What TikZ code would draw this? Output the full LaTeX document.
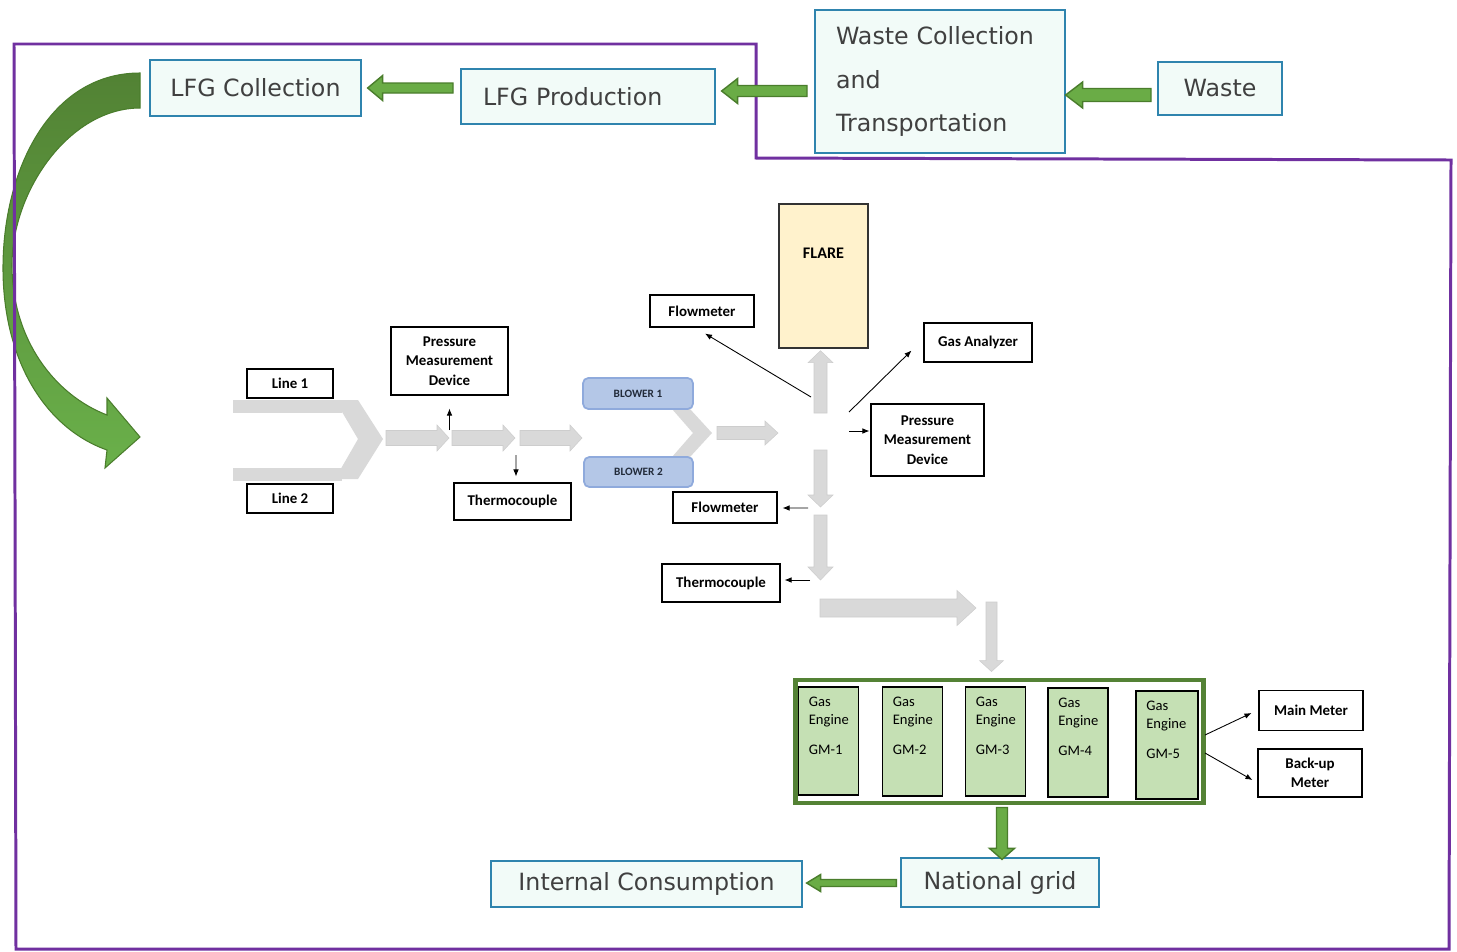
\documentclass[tikz,border=0pt]{standalone}
\usepackage{fontspec}
\usetikzlibrary{calc,arrows.meta}
\newfontfamily\verdfont{DejaVu Sans}
\newfontfamily\calfont{Carlito}
\definecolor{frameviolet}{HTML}{7030A0}
\definecolor{boxedge}{HTML}{2F84AE}
\definecolor{boxfill}{HTML}{F2FBF8}
\definecolor{boxtext}{HTML}{404040}
\definecolor{arrowgreen}{HTML}{6AAC46}
\definecolor{arrowedge}{HTML}{4A7D2C}
\definecolor{curvetop}{HTML}{528234}
\definecolor{curvebottom}{HTML}{6AB04A}
\definecolor{enginebox}{HTML}{548235}
\definecolor{enginefill}{HTML}{C5E0B4}
\definecolor{blowerfill}{HTML}{B4C7E7}
\definecolor{blowerdraw}{HTML}{8FAADC}
\definecolor{blowertext}{HTML}{222B3A}
\definecolor{flarefill}{HTML}{FFF2CC}
\definecolor{pipegrey}{HTML}{D9D9D9}
\definecolor{pipeedge}{HTML}{CDCDCD}

% block arrow: style, tail, tip, angle, half shaft, half head, head length
\newcommand{\blockarrow}[7]{%
  \draw[#1] ($#2+({-(#5)*sin(#4)},{(#5)*cos(#4)})$)
    -- ($#3+({-(#7)*cos(#4)-(#5)*sin(#4)},{-(#7)*sin(#4)+(#5)*cos(#4)})$)
    -- ($#3+({-(#7)*cos(#4)-(#6)*sin(#4)},{-(#7)*sin(#4)+(#6)*cos(#4)})$)
    -- #3
    -- ($#3+({-(#7)*cos(#4)+(#6)*sin(#4)},{-(#7)*sin(#4)-(#6)*cos(#4)})$)
    -- ($#3+({-(#7)*cos(#4)+(#5)*sin(#4)},{-(#7)*sin(#4)-(#5)*cos(#4)})$)
    -- ($#2+({(#5)*sin(#4)},{-(#5)*cos(#4)})$) -- cycle;}

\begin{document}
\begin{tikzpicture}[x=0.02cm,y=-0.02cm,
  wh/.style 2 args={minimum width={#1*0.02cm},minimum height={#2*0.02cm}},
  topbox/.style={draw=boxedge,fill=boxfill,text=boxtext,line width=0.7pt,inner sep=0pt,
    font=\verdfont\fontsize{13.5}{16}\selectfont},
  meter/.style={draw=black,fill=white,line width=0.6pt,inner sep=0pt,align=center,
    font=\calfont\bfseries\fontsize{8.5}{11}\selectfont},
  blower/.style={draw=blowerdraw,fill=blowerfill,line width=1pt,rounded corners=3pt,
    inner sep=0pt,text=blowertext,font=\calfont\bfseries\fontsize{6.4}{7}\selectfont},
  engine/.style={draw=black,fill=enginefill,line width=0.6pt,inner sep=0pt},
  enginetext/.style={anchor=north west,align=left,inner sep=0pt,xshift=6pt,yshift=-5.8pt,
    font=\calfont\fontsize{8.3}{10.2}\selectfont},
  greenarrow/.style={draw=arrowedge,fill=arrowgreen,line width=0.8pt},
  pipe/.style={fill=pipegrey,draw=pipeedge,line width=0.3pt},
  sensor/.style={line width=0.5pt,-{Latex[length=4pt,width=3.2pt]}}]

\fill[white] (0,0) rectangle (1457,951);
\useasboundingbox (0,0) rectangle (1457,951);

% curved arrow into the plant
\draw[draw=arrowedge,line width=0.6pt,top color=curvetop,bottom color=curvebottom]
  (140,73) .. controls (50,73) and (3,170) .. (3,268)
  .. controls (3,360) and (45,428) .. (107,450)
  -- (105,468) -- (140,437) -- (107,398) -- (107,415)
  .. controls (55,395) and (12,340) .. (12,265)
  .. controls (12,190) and (70,108) .. (140,108) -- cycle;

% plant boundary
\draw[frameviolet,line width=1.7pt] (14,44) -- (756,44) -- (756,158) -- (1451,160)
  -- (1449,949) -- (16,949) -- cycle;

% top chain
\node[topbox,wh={211}{56}] (coll) at (255.5,88) {LFG Collection};
\node[topbox,wh={254}{55},text width=4.2cm,align=left] (prod) at (588,96.5) {LFG Production};
\node[topbox,wh={250}{143},text width=4.16cm,align=left,
  font=\verdfont\fontsize{13.5}{24.7}\selectfont] (wct) at (940,81.5)
  {Waste Collection\\and\\Transportation};
\node[topbox,wh={124}{53}] (waste) at (1220,88.5) {Waste};

\coordinate (g1t) at (453,88);
\coordinate (g1h) at ($(coll.east)+(6,0)$);
\coordinate (g2t) at (807,91);
\coordinate (g2h) at ($(prod.east)+(6,-5.5)$);
\coordinate (g3t) at (1151,95);
\coordinate (g3h) at ($(wct.east)+(0,13.5)$);
\blockarrow{greenarrow}{(g1t)}{(g1h)}{180}{5}{12.5}{15}
\blockarrow{greenarrow}{(g2t)}{(g2h)}{180}{5.5}{12.5}{16}
\blockarrow{greenarrow}{(g3t)}{(g3h)}{180}{6.5}{13}{17}

% gas lines and blowers
\node[meter,wh={86}{29}] (line1) at (290,383.5) {Line 1};
\node[meter,wh={86}{29}] (line2) at (290,498.5) {Line 2};
\fill[pipegrey] (233,400) rectangle (342,413);
\fill[pipegrey] (233,468) rectangle (342,481);
\fill[pipegrey] (335,400) -- (358,400) -- (383,439) -- (358,479) -- (335,479) -- (358,439) -- cycle;

\coordinate (p1t) at (386,438);
\coordinate (p1h) at (449,438);
\coordinate (p2t) at (452,438);
\coordinate (p2h) at (515,438);
\coordinate (p3t) at (520,438);
\coordinate (p3h) at (582,438);
\blockarrow{pipe}{(p1t)}{(p1h)}{0}{7.5}{13}{12}
\blockarrow{pipe}{(p2t)}{(p2h)}{0}{7.5}{13}{12}
\blockarrow{pipe}{(p3t)}{(p3h)}{0}{7.5}{13}{12}

\node[meter,wh={117}{68}] (pmd1) at (449.5,361) {Pressure\\Measurement\\Device};
\node[meter,wh={117}{37}] (thc1) at (512.5,501.5) {Thermocouple};
\coordinate (k1) at (449.5,430);
\coordinate (k2) at (516,455);
\draw[sensor] (k1) -- ($(pmd1.south)+(0,13)$);
\draw[sensor] (k2) -- ($(thc1.north)+(3.5,-6)$);

\fill[pipegrey] (672,409) -- (690,409) -- (712,433) -- (690,457) -- (672,457) -- (693,433) -- cycle;
\node[blower,wh={110}{31}] (blow1) at (638,393.5) {BLOWER 1\hspace{10pt}};
\node[blower,wh={109}{30}] (blow2) at (638.5,472) {BLOWER 2\hspace{10pt}};

\coordinate (p4t) at (717,433);
\coordinate (p4h) at (778,433);
\blockarrow{pipe}{(p4t)}{(p4h)}{0}{6.5}{12}{13}

% flare branch and measurement
\node[draw=black!80,fill=flarefill,line width=0.8pt,wh={89}{144},inner sep=0pt,
  label={[anchor=center,yshift=-28.5pt,font=\calfont\bfseries\fontsize{9.2}{11}\selectfont]north:FLARE}]
  (flare) at (823.5,276) {};
\node[meter,wh={104}{32}] (fm1) at (702,311) {Flowmeter};
\node[meter,wh={108}{39}] (gas) at (978,342.5) {Gas Analyzer};
\node[meter,wh={113}{72}] (pmd2) at (927.5,440) {Pressure\\Measurement\\Device};
\node[meter,wh={104}{31}] (fm2) at (725,507.5) {Flowmeter};
\node[meter,wh={118}{38}] (thc2) at (721,583) {Thermocouple};

\coordinate (p5t) at (820.5,413);
\coordinate (p5h) at ($(flare.south)+(-3,2)$);
\coordinate (p6t) at (820.5,450);
\coordinate (p6h) at (820.5,507);
\coordinate (p7t) at (820.5,515);
\coordinate (p7h) at (820.5,580);
\blockarrow{pipe}{(p5t)}{(p5h)}{270}{6.5}{12.5}{12}
\blockarrow{pipe}{(p6t)}{(p6h)}{90}{6.5}{12.5}{12}
\blockarrow{pipe}{(p7t)}{(p7h)}{90}{6.5}{12.5}{13}

\coordinate (k3) at (811,397);
\coordinate (k4) at (849,412);
\coordinate (k5) at (849,431);
\coordinate (k6) at (808,508);
\coordinate (k7) at (810,580);
\draw[sensor] (k3) -- ($(fm1.south)+(3,6)$);
\draw[sensor] (k4) -- ($(gas.south west)+(-12,-12)$);
\draw[sensor] (k5) -- ($(pmd2.west)+(-1,-9)$);
\draw[sensor] (k6) -- ($(fm2.east)+(5,0.5)$);
\draw[sensor] (k7) -- ($(thc2.east)+(4,-3)$);

% engines
\node[draw=enginebox,line width=2.8pt,wh={408}{123},inner sep=0pt] (engines) at (999.5,741.5) {};
\coordinate (p8t) at (820,608);
\coordinate (p8h) at (976,608);
\coordinate (p9t) at (991.5,602);
\coordinate (p9h) at ($(engines.north)+(-8,-6)$);
\blockarrow{pipe}{(p8t)}{(p8h)}{0}{9}{17.5}{19}
\blockarrow{pipe}{(p9t)}{(p9h)}{90}{5.5}{12}{11}

\node[engine,wh={60}{108},label={[enginetext]north west:Gas\\Engine\\[7pt]GM-1}] (gm1) at (828.5,741) {};
\node[engine,wh={60}{109},label={[enginetext]north west:Gas\\Engine\\[7pt]GM-2}] (gm2) at (912.5,741.5) {};
\node[engine,wh={60}{109},label={[enginetext]north west:Gas\\Engine\\[7pt]GM-3}] (gm3) at (995.5,741.5) {};
\node[engine,wh={60}{109},label={[enginetext]north west:Gas\\Engine\\[7pt]GM-4}] (gm4) at (1078,742.5) {};
\node[engine,wh={62}{108},label={[enginetext]north west:Gas\\Engine\\[7pt]GM-5}] (gm5) at (1167,745) {};

\node[meter,wh={104}{40}] (mainm) at (1311,710.5) {Main Meter};
\node[meter,wh={104}{48}] (backm) at (1310,773) {Back-up\\Meter};
\coordinate (k8) at (1205,735);
\coordinate (k9) at (1205,753);
\draw[sensor] (k8) -- ($(mainm.west)+(-7,2.5)$);
\draw[sensor] (k9) -- ($(backm.west)+(-5,7)$);

% power out
\node[topbox,wh={198}{49}] (grid) at (1000,882.5) {National grid};
\node[topbox,wh={311}{46}] (intc) at (646.5,884) {Internal Consumption};
\coordinate (g4t) at ($(engines.south)+(2.5,2)$);
\coordinate (g4h) at ($(grid.north)+(2,2)$);
\coordinate (g5t) at ($(grid.west)+(-4,0.5)$);
\coordinate (g5h) at ($(intc.east)+(4,-1)$);
\blockarrow{greenarrow}{(g4t)}{(g4h)}{90}{5.5}{12.5}{11}
\blockarrow{greenarrow}{(g5t)}{(g5h)}{180}{3.5}{8.5}{14}

\end{tikzpicture}
\end{document}
